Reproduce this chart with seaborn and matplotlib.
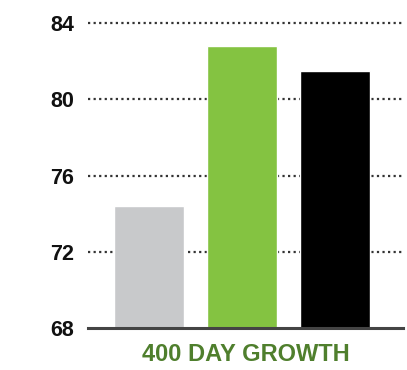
import matplotlib
matplotlib.use("Agg")
import matplotlib.pyplot as plt
import seaborn as sns
import pandas as pd

categories = ["A", "B", "C"]
values = [74.4, 82.8, 81.5]
colors = ["#c8c9cb", "#84c341", "#000000"]
yticks = [68, 72, 76, 80, 84]
xlabel = "400 DAY GROWTH"

sns.set_theme(style="white")
plt.rcParams['font.family'] = ['Liberation Sans', 'DejaVu Sans']

df = pd.DataFrame({"cat": categories, "val": values})

fig = plt.figure(figsize=(4.07, 3.70), dpi=100)
ax = fig.add_axes([0.2162, 0.1135, 0.990 - 0.2162, 0.943 - 0.1135])

sns.barplot(data=df, x="cat", y="val", hue="cat", palette=colors, ax=ax,
            width=0.753, legend=False, saturation=1, zorder=3)

ax.set_ylim(68, 84.1)
ax.set_xlim(-0.656, 2.73)
ax.set_yticks(yticks)
ax.set_yticklabels([str(t) for t in yticks], fontsize=15.5, fontweight="bold", color="#111111")
ax.set_xticks([])
ax.set_xlabel(xlabel, fontsize=17, fontweight="bold", color="#4f7f2d", labelpad=11)
ax.set_ylabel("")
ax.tick_params(axis="y", length=0, pad=10)

for y in yticks[1:]:
    ax.axhline(y, color="#333333", lw=1.6, ls=(0, (1, 1.5)), zorder=1)

for s in ["top", "right", "left"]:
    ax.spines[s].set_visible(False)
ax.spines["bottom"].set_color("#444444")
ax.spines["bottom"].set_linewidth(2.2)
ax.spines["bottom"].set_zorder(4)

fig.savefig("out.png", dpi=100)
